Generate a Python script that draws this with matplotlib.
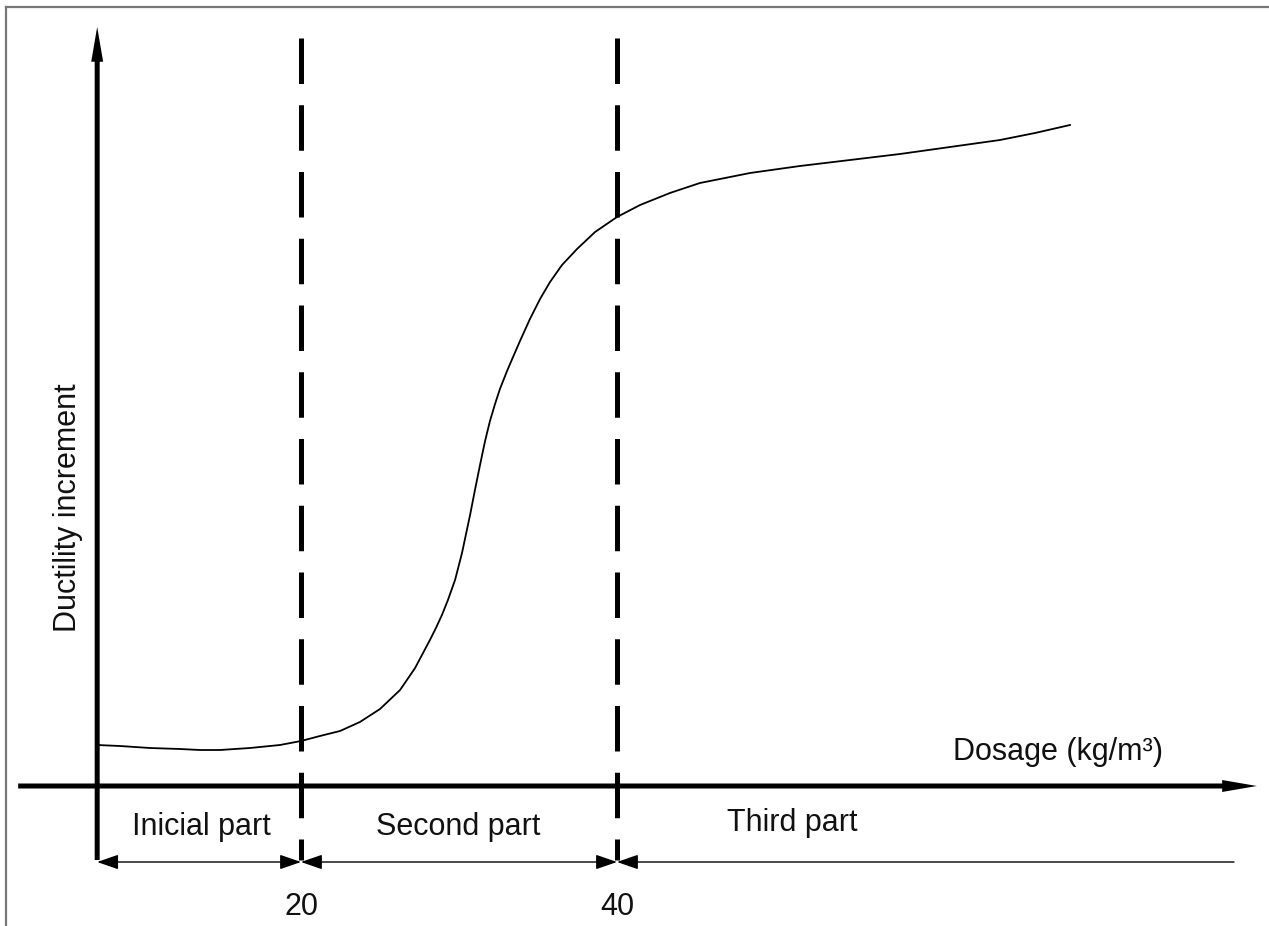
import matplotlib
matplotlib.use('Agg')
import matplotlib.pyplot as plt

plt.rcParams['font.family'] = ['Liberation Sans', 'DejaVu Sans']

# curve (dosage in kg/m3, ductility in arbitrary units)
dosage = [7.09, 8.54, 10.44, 12.34, 13.61, 14.87, 16.77, 18.67, 20.00, 21.20,
          22.47, 23.73, 25.00, 26.27, 27.22, 28.16, 28.54, 28.92, 29.30, 29.75,
          30.19, 30.70, 31.01, 31.33, 31.65, 31.96, 32.28, 32.59, 33.04, 33.42,
          33.86, 34.49, 35.13, 35.76, 36.52, 37.47, 38.61, 40.00, 41.46, 43.35,
          45.25, 48.42, 51.58, 54.75, 57.91, 61.08, 64.24, 66.46, 68.67]
ductility = [0.41, 0.40, 0.38, 0.37, 0.36, 0.36, 0.38, 0.41, 0.45, 0.50,
             0.55, 0.64, 0.77, 0.96, 1.18, 1.46, 1.58, 1.71, 1.86, 2.06,
             2.33, 2.71, 2.96, 3.21, 3.45, 3.65, 3.82, 3.97, 4.15, 4.29,
             4.45, 4.67, 4.87, 5.04, 5.21, 5.37, 5.54, 5.69, 5.81, 5.93,
             6.03, 6.13, 6.20, 6.26, 6.32, 6.39, 6.46, 6.53, 6.61]

limits = [20, 40]               # boundaries between the parts
limit_labels = ['20', '40']
part_labels = ['Inicial part', 'Second part', 'Third part']
part_x = [13.67, 29.94, 51.1]
xlabel = 'Dosage (kg/m³)'
ylabel = 'Ductility increment'

# layout (data units)
x_origin = 7.1
x_axis_end = 80.5
x_axis_start = 2.1
y_axis_top = 7.59
y_bottom = -0.74
dim_y = -0.76
dim_end = 79.05
dash_top = 7.48

fig = plt.figure(figsize=(12.69, 9.26), dpi=100)
ax = fig.add_axes([0, 0, 1, 1])
px = 15.8
x_left = 20 - 301 / px
ax.set_xlim(x_left, x_left + 1269 / px)
ax.set_ylim(-1.40, 7.86)
ax.axis('off')

# frame (left and top only)
fig.add_artist(plt.Line2D([6 / 1269, 6 / 1269], [0, 1 - 7 / 926], color='#777777', lw=1.6))
fig.add_artist(plt.Line2D([6 / 1269, 1], [1 - 7 / 926, 1 - 7 / 926], color='#777777', lw=1.6))

# axes with arrows
axis_style = 'simple,head_length=2.5,head_width=0.86,tail_width=0.36'
ax.annotate('', xy=(x_origin, y_axis_top), xytext=(x_origin, y_bottom),
            arrowprops=dict(arrowstyle=axis_style, mutation_scale=10, fc='k', ec='none',
                            lw=0, shrinkA=0, shrinkB=0))
ax.annotate('', xy=(x_axis_end, 0), xytext=(x_axis_start, 0),
            arrowprops=dict(arrowstyle=axis_style, mutation_scale=10, fc='k', ec='none',
                            lw=0, shrinkA=0, shrinkB=0))

# dashed limits
for xl in limits:
    ax.plot([xl, xl], [dash_top, y_bottom], color='k', lw=3.6,
            linestyle=(0, (9.1, 4.25)), dash_capstyle='butt')

# the curve
ax.plot(dosage, ductility, color='k', lw=1.3, solid_joinstyle='round')

# dimension line below the axis
bounds = [x_origin] + limits + [dim_end]
dim_style = ',head_length=1.3,head_width=0.45'
for i in range(3):
    style = '<|-|>' if i < 2 else '<|-'
    ax.annotate('', xy=(bounds[i + 1], dim_y), xytext=(bounds[i], dim_y),
                arrowprops=dict(arrowstyle=style + dim_style, mutation_scale=10,
                                color='k', lw=1.0, shrinkA=0, shrinkB=0))

# texts
fs = 22
for xp, lab in zip(part_x, part_labels):
    yy = -0.41 if lab != 'Third part' else -0.37
    ax.text(xp, yy, lab, fontsize=fs, ha='center', va='center', color='#111111')
for xl, lab in zip(limits, limit_labels):
    ax.text(xl + 0.05, -1.21, lab, fontsize=fs, ha='center', va='center', color='#111111')
ax.text(67.9, 0.34, xlabel, fontsize=fs, ha='center', va='center', color='#111111')
ax.text(x_origin - 1.85, 2.78, ylabel, fontsize=fs, ha='center', va='center',
        rotation=90, color='#111111')

plt.savefig('out.png', dpi=100)
